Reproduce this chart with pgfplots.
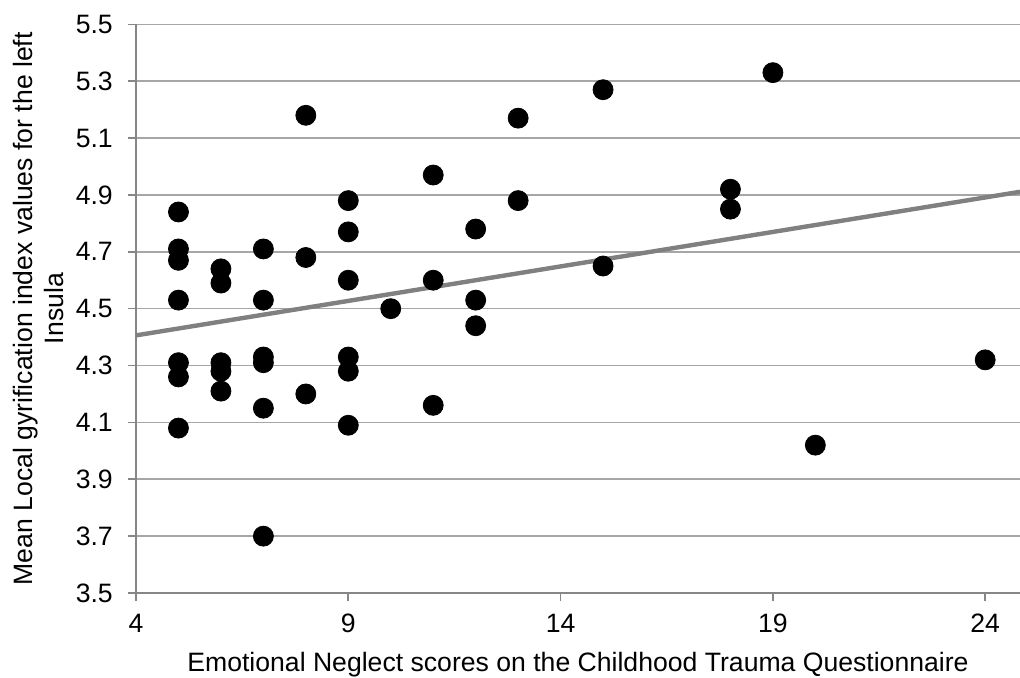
\documentclass[border=0pt]{standalone}
\usepackage{fontspec}
\setmainfont{Liberation Sans}
\usepackage{pgfplots}
\pgfplotsset{compat=1.18}
\definecolor{axisgray}{HTML}{868686}
\definecolor{gridgray}{HTML}{A6A6A6}
\definecolor{trendgray}{HTML}{808080}
\begin{document}
\begin{tikzpicture}
\fontsize{13.3}{16}\selectfont
\begin{axis}[
  scale only axis,
  width=442pt, height=284.35pt,
  xmin=4, xmax=24.82,
  ymin=3.5, ymax=5.5,
  axis x line*=bottom, axis y line*=left,
  axis line style={draw=axisgray, line width=0.9pt},
  xtick={4,9,14,19,24},
  ytick={3.5,3.7,...,5.6},
  ymajorgrids,
  grid style={draw=gridgray, line width=0.8pt},
  tick align=outside,
  major tick length=4pt,
  tick style={draw=axisgray, line width=0.8pt},
  /pgf/number format/assume math mode=true,
  yticklabel style={/pgf/number format/fixed, /pgf/number format/fixed zerofill, /pgf/number format/precision=1, xshift=-3pt},
  ticklabel style={font=\fontsize{13.3}{16}\selectfont, text=black},
  xticklabel style={yshift=-2pt},
  xlabel={Emotional Neglect scores on the Childhood Trauma Questionnaire},
  xlabel style={at={(axis description cs:0.5,0)}, anchor=base, yshift=-39.35pt, inner sep=0pt, font=\fontsize{13.3}{16}\selectfont},
  ylabel={Mean Local gyrification index values for the left\\Insula},
  ylabel style={at={(axis description cs:-0.1391,0.5)}, anchor=north, inner sep=0pt, align=center, font=\fontsize{13.3}{15.5}\selectfont},
  clip=false,
]
\addplot[only marks, mark=*, mark size=5pt, mark options={fill=black, draw=black}] coordinates {
(5,4.84) (5,4.71) (5,4.67) (5,4.53) (5,4.31) (5,4.26) (5,4.08)
(6,4.64) (6,4.59) (6,4.31) (6,4.28) (6,4.21)
(7,4.71) (7,4.53) (7,4.33) (7,4.31) (7,4.15) (7,3.70)
(8,5.18) (8,4.68) (8,4.20)
(9,4.88) (9,4.77) (9,4.60) (9,4.33) (9,4.28) (9,4.09)
(10,4.50)
(11,4.97) (11,4.60) (11,4.16)
(12,4.78) (12,4.53) (12,4.44)
(13,5.17) (13,4.88)
(15,5.27) (15,4.65)
(18,4.92) (18,4.85)
(19,5.33)
(20,4.02)
(24,4.32)
};
\addplot[draw=trendgray, line width=2.2pt] coordinates {(4,4.406) (24.82,4.911)};
\end{axis}
\pgfresetboundingbox
\path[use as bounding box] (-68pt,-42pt) rectangle (442pt,296.5pt);
\end{tikzpicture}
\end{document}
